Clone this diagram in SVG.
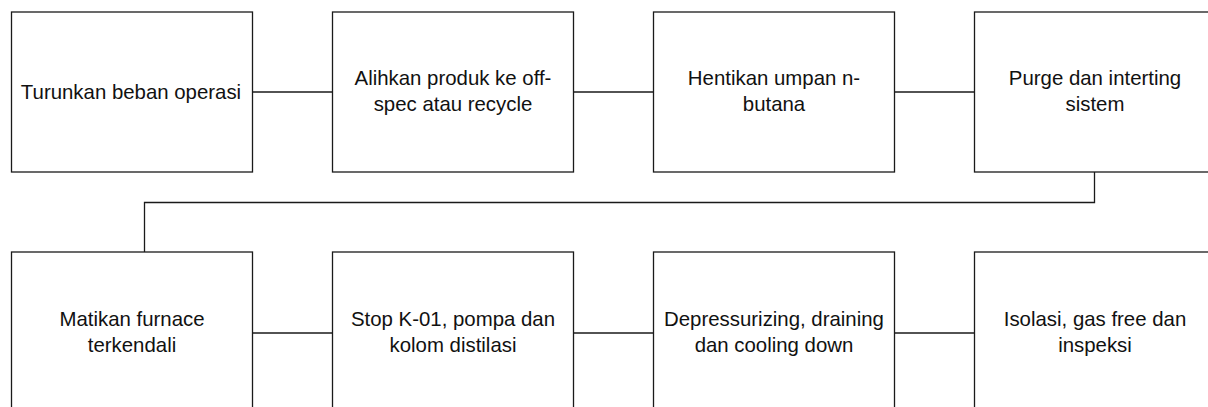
<svg xmlns="http://www.w3.org/2000/svg" width="1208" height="407" viewBox="0 0 1208 407">
  <style>
    .box { fill: #ffffff; stroke: #1a1a1a; stroke-width: 1.3; }
    .lbl { font-family: "Liberation Sans", Arial, sans-serif; font-size: 20.4px; fill: #111111; text-anchor: middle; }
    .conn { fill: none; stroke: #1a1a1a; stroke-width: 1.3; }
  </style>
  <rect width="1208" height="407" fill="#ffffff"/>
  <g id="connectors">
    <line class="conn" x1="252" y1="92" x2="332" y2="92"/>
    <line class="conn" x1="573" y1="92" x2="653" y2="92"/>
    <line class="conn" x1="894" y1="92" x2="974" y2="92"/>
    <polyline class="conn" points="1094.5,172 1094.5,202.5 144.5,202.5 144.5,252"/>
    <line class="conn" x1="252" y1="333" x2="332" y2="333"/>
    <line class="conn" x1="573" y1="333" x2="653" y2="333"/>
    <line class="conn" x1="894" y1="333" x2="974" y2="333"/>
  </g>
  <g id="node1">
    <rect class="box" x="11.5" y="12" width="241" height="160"/>
    <text class="lbl" x="131" y="99">Turunkan beban operasi</text>
  </g>
  <g id="node2">
    <rect class="box" x="332.5" y="12" width="241" height="160"/>
    <text class="lbl" x="453" y="85">Alihkan produk ke off-</text>
    <text class="lbl" x="453" y="111">spec atau recycle</text>
  </g>
  <g id="node3">
    <rect class="box" x="653.5" y="12" width="241" height="160"/>
    <text class="lbl" x="774" y="85">Hentikan umpan n-</text>
    <text class="lbl" x="774" y="111">butana</text>
  </g>
  <g id="node4">
    <rect class="box" x="974.5" y="12" width="241" height="160"/>
    <text class="lbl" x="1095" y="85">Purge dan interting</text>
    <text class="lbl" x="1095" y="111">sistem</text>
  </g>
  <g id="node5">
    <rect class="box" x="11.5" y="252" width="241" height="162"/>
    <text class="lbl" x="132" y="326">Matikan furnace</text>
    <text class="lbl" x="132" y="352">terkendali</text>
  </g>
  <g id="node6">
    <rect class="box" x="332.5" y="252" width="241" height="162"/>
    <text class="lbl" x="453" y="326">Stop K-01, pompa dan</text>
    <text class="lbl" x="453" y="352">kolom distilasi</text>
  </g>
  <g id="node7">
    <rect class="box" x="653.5" y="252" width="241" height="162"/>
    <text class="lbl" x="774" y="326">Depressurizing, draining</text>
    <text class="lbl" x="774" y="352">dan cooling down</text>
  </g>
  <g id="node8">
    <rect class="box" x="974.5" y="252" width="241" height="162"/>
    <text class="lbl" x="1095" y="326">Isolasi, gas free dan</text>
    <text class="lbl" x="1095" y="352">inspeksi</text>
  </g>
</svg>
